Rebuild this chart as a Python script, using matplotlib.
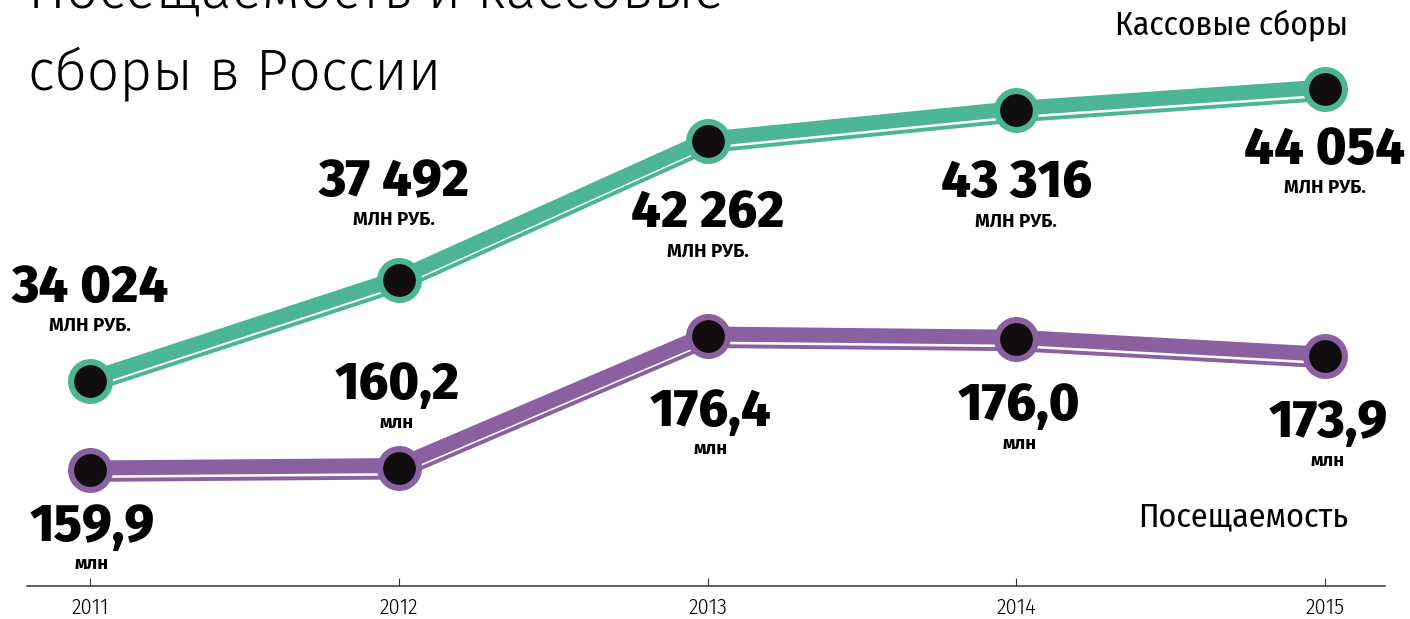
import matplotlib
matplotlib.use('Agg')
import matplotlib.pyplot as plt
import matplotlib.transforms as mtransforms

# ----- data -----
YEARS = [2011, 2012, 2013, 2014, 2015]
BOX_OFFICE = [34024, 37492, 42262, 43316, 44054]       # млн руб.
ATTENDANCE = [159.9, 160.2, 176.4, 176.0, 173.9]        # млн
BOX_LABELS = ['34 024', '37 492', '42 262', '43 316', '44 054']
ATT_LABELS = ['159,9', '160,2', '176,4', '176,0', '173,9']
TICK_LABELS = ['2011', '2012', '2013', '2014', '2015']

# label offsets from the marker, pixels (negative = above)
BOX_DY = [-93, -98, 72, 73, 61]
ATT_DY = [57, -82, 76, 67, 67]
BOX_DX = [0, -5, 0, 0, 0]
ATT_DX = [2, -2, 3, 3, 3]

GREEN = '#4bb596'
PURPLE = '#8a60a0'
BLACK = '#120e0f'

BOLD = ['Fira Sans', 'DejaVu Sans']
COND = ['Fira Sans Condensed', 'DejaVu Sans']
LIGHT = ['Fira Sans', 'DejaVu Sans']

W, H = 1410, 619
fig = plt.figure(figsize=(W / 100, H / 100), dpi=100)
ax = fig.add_axes([0, 33 / H, 1, 586 / H])
ax2 = ax.twinx()

ax.set_xlim(2011 - 90 / 308.75, 2015 + 85 / 308.75)
ax.set_ylim(26982, 47111)
ax2.set_ylim(145.61, 217.78)
ax.patch.set_visible(False)
ax2.patch.set_visible(False)


def draw_series(a, ys, colour):
    band = mtransforms.offset_copy(a.transData, fig=fig, y=2, units='dots')
    thin = mtransforms.offset_copy(a.transData, fig=fig, y=-10, units='dots')
    a.plot(YEARS, ys, color=colour, lw=10.8, solid_capstyle='butt', transform=band, zorder=2)
    a.plot(YEARS, ys, color=colour, lw=2.8, solid_capstyle='butt', transform=thin, zorder=2)
    a.plot(YEARS, ys, ls='none', marker='o', ms=28, mew=4.4, mfc=BLACK, mec=colour, zorder=3)


draw_series(ax, BOX_OFFICE, GREEN)
draw_series(ax2, ATTENDANCE, PURPLE)

for x, y, lab, dx, dy in zip(YEARS, BOX_OFFICE, BOX_LABELS, BOX_DX, BOX_DY):
    ax.annotate(lab, (x, y), xytext=(dx, -dy), textcoords='offset pixels', ha='center', va='center',
                fontsize=37.5, fontweight=800, family=BOLD, color='black')
    ax.annotate('МЛН РУБ.', (x, y), xytext=(dx, -dy - 38), textcoords='offset pixels', ha='center',
                va='center', fontsize=13.5, fontweight='bold', family=BOLD, color='black')

for x, y, lab, dx, dy in zip(YEARS, ATTENDANCE, ATT_LABELS, ATT_DX, ATT_DY):
    ax2.annotate(lab, (x, y), xytext=(dx, -dy), textcoords='offset pixels', ha='center', va='center',
                 fontsize=37.5, fontweight=800, family=BOLD, color='black')
    ax2.annotate('млн', (x, y), xytext=(dx, -dy - 37), textcoords='offset pixels', ha='center',
                 va='center', fontsize=13.5, fontweight='bold', family=BOLD, color='black')

# axes styling
for a in (ax, ax2):
    for s in ['top', 'right', 'left']:
        a.spines[s].set_visible(False)
ax2.spines['bottom'].set_visible(False)
ax.spines['bottom'].set_bounds(2011 - 63 / 308.75, 2015 + 60 / 308.75)
ax.spines['bottom'].set_color('#333333')
ax.spines['bottom'].set_linewidth(1.1)
ax.set_yticks([])
ax2.set_yticks([])
ax.set_xticks(YEARS)
ax.set_xticklabels(TICK_LABELS, family=COND, fontsize=16, fontweight=300)
ax.tick_params(axis='x', direction='in', length=6, width=0.8, color='#333333', pad=8)

# titles
fig.text(28, H - 7, 'Посещаемость и кассовые', transform=None, ha='left', va='baseline',
         fontsize=41, fontweight=300, family=LIGHT)
fig.text(28, H - 90, 'сборы в России', transform=None, ha='left', va='baseline',
         fontsize=41, fontweight=300, family=LIGHT)
fig.text(1348, H - 26, 'Кассовые сборы', transform=None, ha='right', va='center',
         fontsize=24, fontweight=400, family=COND)
fig.text(1348, H - 517, 'Посещаемость', transform=None, ha='right', va='center',
         fontsize=24.5, fontweight=400, family=COND)

fig.savefig('out.png', dpi=100)
